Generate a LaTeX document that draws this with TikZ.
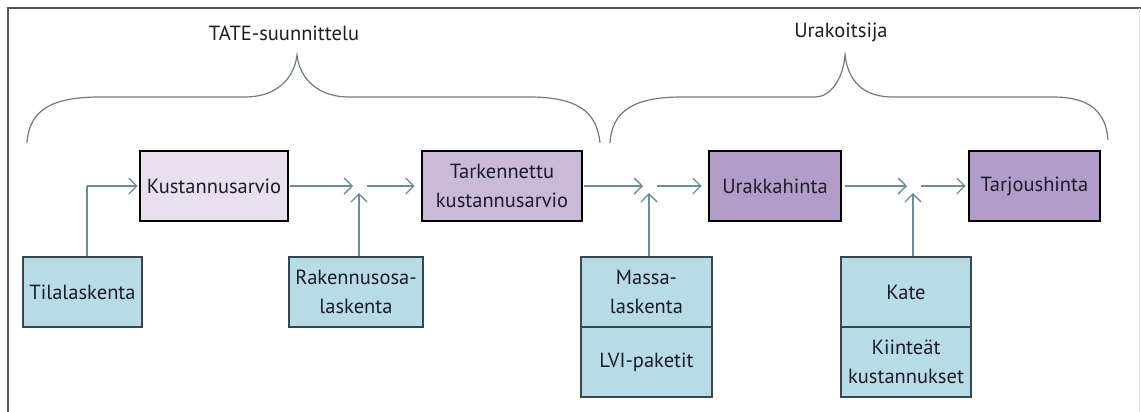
\documentclass[tikz,border=0pt]{standalone}
\usepackage{fontspec}
\setmainfont{PT Sans}
\usetikzlibrary{arrows.meta}
\definecolor{txt}{HTML}{1C1C28}
\definecolor{lav1}{HTML}{E8E0EE}
\definecolor{lav2}{HTML}{C9BAD9}
\definecolor{lav3}{HTML}{B29DCA}
\definecolor{bluebox}{HTML}{B7DCE7}
\definecolor{bluedraw}{HTML}{38474C}
\definecolor{conn}{HTML}{6C8D97}
\definecolor{bracec}{HTML}{6F7B7E}
\definecolor{framec}{HTML}{555555}
\tikzset{
  topbox/.style={draw=black, line width=2.6pt, minimum height=70pt, inner sep=0pt, align=center, text=txt, font=\fontsize{20.5}{29}\selectfont},
  inbox/.style={draw=bluedraw, line width=1.6pt, fill=bluebox, minimum height=70pt, inner sep=0pt, align=center, text=txt, font=\fontsize{20.5}{29}\selectfont},
  conarrow/.style={draw=conn, line width=1.3pt, -{Straight Barb[length=8pt,width=16pt,line width=1.3pt]}},
  conline/.style={draw=conn, line width=1.3pt},
  bracestyle/.style={draw=bracec, line width=1.2pt},
  titletext/.style={text=txt, font=\fontsize{20.5}{24}\selectfont, inner sep=0pt}
}
\begin{document}
\begin{tikzpicture}[x=1pt,y=-1pt]
\useasboundingbox (0,0) rectangle (1141,412);
% frame
\draw[framec, line width=2pt] (8,412) -- (8,8) -- (1141,8);
\draw[gray!15, line width=1pt] (1139,8) -- (1139,412);

% braces
\draw[bracestyle] (27,143) .. controls (29,108) and (55,97) .. (100,97)
  -- (245,97) .. controls (275,97) and (294,80) .. (297,55)
  .. controls (300,80) and (319,97) .. (349,97)
  -- (529,97) .. controls (575,97) and (597,110) .. (600,143);
\draw[bracestyle] (610,143) .. controls (612,110) and (635,97) .. (682,97)
  -- (815,97) .. controls (830,97) and (843,80) .. (845,55)
  .. controls (848,80) and (862,97) .. (893,97)
  -- (1053,97) .. controls (1090,97) and (1106,112) .. (1108,140);
\node[titletext] (tate) at (284,33) {TATE-suunnittelu};
\node[titletext] (urakoitsija) at (841,32) {Urakoitsija};

% top boxes
\node[topbox, fill=lav1, minimum width=148pt] (kust) at (214,186) {Kustannusarvio};
\node[topbox, fill=lav2, minimum width=160pt] (tark) at (502,186) {Tarkennettu\\kustannusarvio};
\node[topbox, fill=lav3, minimum width=132pt] (urak) at (775,186) {Urakkahinta};
\node[topbox, fill=lav3, minimum width=131pt] (tarj) at (1034.5,186) {Tarjoushinta};

% input boxes
\node[inbox, minimum width=119pt] (tila) at (82.5,292) {Tilalaskenta};
\node[inbox, minimum width=134pt] (rak) at (356,292) {Rakennusosa-\\laskenta};
\node[inbox, minimum width=131pt] (massa) at (646.5,292) {Massa-\\laskenta};
\node[inbox, minimum width=131pt] (lvi) at (646.5,362) {LVI-paketit};
\node[inbox, minimum width=130pt] (kate) at (906,292) {Kate};
\node[inbox, minimum width=130pt] (kiint) at (906,362) {Kiinteät\\kustannukset};

% junctions
\coordinate (j1) at (359,186);
\coordinate (j2) at (649,186);
\coordinate (j3) at (913,186);
\coordinate (t1) at (87,186);

% connectors
\draw[conline] (t1 |- tila.north) -- (t1);
\draw[conarrow, shorten >=1pt] (t1) -- (kust.west);

\draw[conarrow, shorten <=1pt, shorten >=6pt] (kust.east) -- (j1);
\draw[conarrow, shorten >=7pt] (j1 |- rak.north) -- (j1);
\draw[conarrow, shorten <=8pt, shorten >=6pt] (j1) -- (tark.west);

\draw[conarrow, shorten <=1pt, shorten >=6pt] (tark.east) -- (j2);
\draw[conarrow, shorten >=7pt] (j2 |- massa.north) -- (j2);
\draw[conarrow, shorten <=8pt, shorten >=6pt] (j2) -- (urak.west);

\draw[conarrow, shorten <=3pt, shorten >=6pt] (urak.east) -- (j3);
\draw[conarrow, shorten >=7pt] (j3 |- kate.north) -- (j3);
\draw[conarrow, shorten <=8pt, shorten >=2pt] (j3) -- (tarj.west);
\end{tikzpicture}
\end{document}
